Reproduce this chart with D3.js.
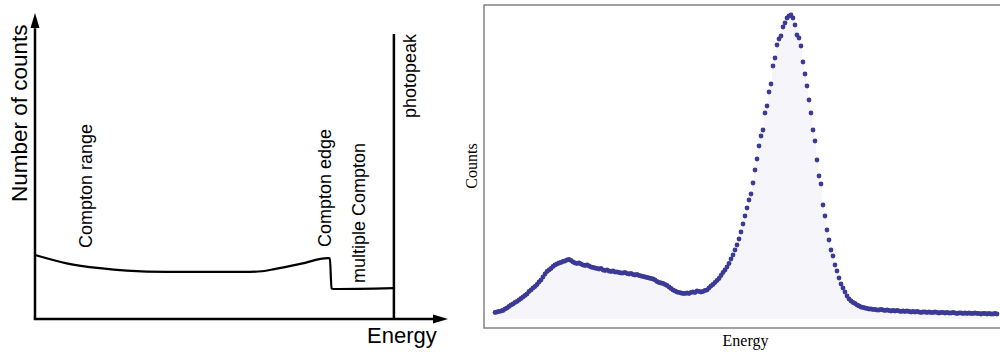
<!DOCTYPE html>
<html>
<head>
<meta charset="utf-8">
<script src="https://cdn.jsdelivr.net/npm/d3@7/dist/d3.min.js"></script>
<style>
  html, body { margin: 0; padding: 0; background: #fff; }
  svg { display: block; }
</style>
</head>
<body>
<svg id="chart" width="1000" height="352"></svg>
<script>
// ---------- Left panel: schematic spectrum ----------
const schemEnergy = [0, 7.67, 15.7, 22.2, 31.9, 52.0, 55.0, 58.0, 64.5, 70.9, 71.4, 71.8, 72.2, 86.9];
const schemCounts = [20.9, 18.2, 16.6, 15.8, 15.4, 15.4, 15.6, 16.3, 18.1, 19.9, 19.8, 10.0, 9.8, 10.1];
const photopeakEnergy = 86.9;
const photopeakHeight = 93.1;
const schemLabels = ["Compton range", "Compton edge", "multiple Compton", "photopeak"];
const schemAxisLabels = ["Number of counts", "Energy"];

// ---------- Right panel: measured spectrum ----------
const spectrumCounts = [
  65, 70, 75, 80, 85, 100, 110, 125, 140, 150, 165, 175, 190, 205, 220, 235, 250, 275, 290, 310,
  325, 345, 370, 390, 420, 450, 475, 490, 505, 525, 540, 550, 560, 565, 575, 580, 590, 595, 585, 570,
  560, 555, 560, 550, 540, 535, 540, 530, 520, 515, 510, 505, 500, 505, 490, 485, 490, 480, 475, 480,
  470, 470, 465, 460, 460, 465, 455, 450, 455, 445, 440, 445, 435, 430, 425, 420, 415, 410, 405, 400,
  390, 375, 365, 360, 355, 345, 335, 320, 305, 290, 280, 270, 265, 260, 255, 255, 260, 255, 265, 270,
  265, 280, 275, 270, 275, 285, 290, 310, 330, 345, 365, 385, 405, 435, 465, 490, 520, 555, 600, 640,
  690, 740, 800, 870, 950, 1030, 1110, 1190, 1250, 1360, 1490, 1600, 1730, 1830, 1890, 2060, 2130, 2270, 2350, 2530,
  2610, 2740, 2800, 2830, 2920, 2960, 3010, 3030, 3040, 3010, 2940, 2840, 2810, 2730, 2570, 2450, 2330, 2190, 2060, 1890,
  1780, 1590, 1430, 1350, 1140, 1030, 890, 790, 690, 630, 540, 480, 410, 350, 310, 270, 230, 200, 180, 165,
  155, 140, 130, 120, 115, 110, 105, 100, 100, 95, 95, 90, 90, 95, 90, 85, 90, 85, 80, 85,
  80, 85, 80, 75, 80, 75, 80, 75, 70, 75, 70, 75, 70, 65, 70, 70, 65, 70, 65, 65,
  70, 65, 60, 65, 65, 60, 65, 60, 60, 65, 60, 55, 60, 60, 55, 60, 55, 60, 55, 55,
  60, 55, 55, 50, 55, 55, 50, 55, 50, 50, 55, 50
];
const spectrumChannels = d3.range(spectrumCounts.length);
const spectrumAxisLabels = ["Counts", "Energy"];

const svg = d3.select("#chart");

// ===== Left panel =====
const xL = d3.scaleLinear().domain([0, 100]).range([35, 448]);
const yL = d3.scaleLinear().domain([0, 100]).range([319, 13]);
const left = svg.append("g");

// axes with arrows
left.append("line")
  .attr("x1", xL(0)).attr("y1", yL(0)).attr("x2", xL(0)).attr("y2", yL(95))
  .attr("stroke", "#000").attr("stroke-width", 2.5);
left.append("line")
  .attr("x1", xL(0) - 1.2).attr("y1", yL(0)).attr("x2", xL(97)).attr("y2", yL(0))
  .attr("stroke", "#000").attr("stroke-width", 2.5);
left.append("path")
  .attr("d", `M${xL(0)},${yL(100)} L${xL(0) - 4.5},${yL(100) + 15} L${xL(0) + 4.5},${yL(100) + 15} Z`)
  .attr("fill", "#000");
left.append("path")
  .attr("d", `M${xL(100)},${yL(0)} L${xL(100) - 15},${yL(0) - 4.5} L${xL(100) - 15},${yL(0) + 4.5} Z`)
  .attr("fill", "#000");

// curve
const schemData = schemEnergy.map((e, i) => ({ e, c: schemCounts[i] }));
left.append("path")
  .datum(schemData)
  .attr("fill", "none")
  .attr("stroke", "#000")
  .attr("stroke-width", 2.2)
  .attr("stroke-linejoin", "round")
  .attr("d", d3.line().x(d => xL(d.e)).y(d => yL(d.c)).curve(d3.curveMonotoneX));

// photopeak line
left.append("line")
  .attr("x1", xL(photopeakEnergy)).attr("x2", xL(photopeakEnergy))
  .attr("y1", yL(0)).attr("y2", yL(photopeakHeight))
  .attr("stroke", "#000").attr("stroke-width", 2.5);

const sansFont = "'Liberation Sans', Arial, sans-serif";
function vtext(g, x, y, txt, size) {
  g.append("text")
    .attr("transform", `translate(${x},${y}) rotate(-90)`)
    .attr("font-family", sansFont)
    .attr("font-size", size)
    .attr("fill", "#000")
    .text(txt);
}
vtext(left, 92, 248, schemLabels[0], 18);
vtext(left, 331, 247, schemLabels[1], 18);
vtext(left, 365, 283, schemLabels[2], 18);
vtext(left, 416, 118, schemLabels[3], 18);
vtext(left, 27, 202, schemAxisLabels[0], 22.5);
left.append("text")
  .attr("x", 367).attr("y", 343)
  .attr("font-family", sansFont).attr("font-size", 22)
  .attr("fill", "#000")
  .text(schemAxisLabels[1]);

// ===== Right panel =====
const right = svg.append("g");
const xR = d3.scaleLinear().domain([0, spectrumCounts.length - 1]).range([495, 997]);
const yR = d3.scaleLinear().domain([0, 3040]).range([319, 15]);

// frame
right.append("rect")
  .attr("x", 484).attr("y", 5).attr("width", 520).attr("height", 323)
  .attr("fill", "none").attr("stroke", "#7a7a7a").attr("stroke-width", 1.4);

// stems
right.append("g").selectAll("line")
  .data(spectrumChannels)
  .join("line")
  .attr("x1", d => xR(d)).attr("x2", d => xR(d))
  .attr("y1", yR(0)).attr("y2", d => yR(spectrumCounts[d]))
  .attr("stroke", "#e4e4f2").attr("stroke-width", 0.8);

// dots
right.append("g").selectAll("circle")
  .data(spectrumChannels)
  .join("circle")
  .attr("cx", d => xR(d))
  .attr("cy", d => yR(spectrumCounts[d]))
  .attr("r", 2.4)
  .attr("fill", "#3b3a96");

const serifFont = "'Liberation Serif', 'Times New Roman', serif";
right.append("text")
  .attr("transform", `translate(477,166) rotate(-90)`)
  .attr("text-anchor", "middle")
  .attr("font-family", serifFont).attr("font-size", 16)
  .attr("fill", "#000")
  .text(spectrumAxisLabels[0]);
right.append("text")
  .attr("x", 745.5).attr("y", 346)
  .attr("text-anchor", "middle")
  .attr("font-family", serifFont).attr("font-size", 16)
  .attr("fill", "#000")
  .text(spectrumAxisLabels[1]);
</script>
</body>
</html>
